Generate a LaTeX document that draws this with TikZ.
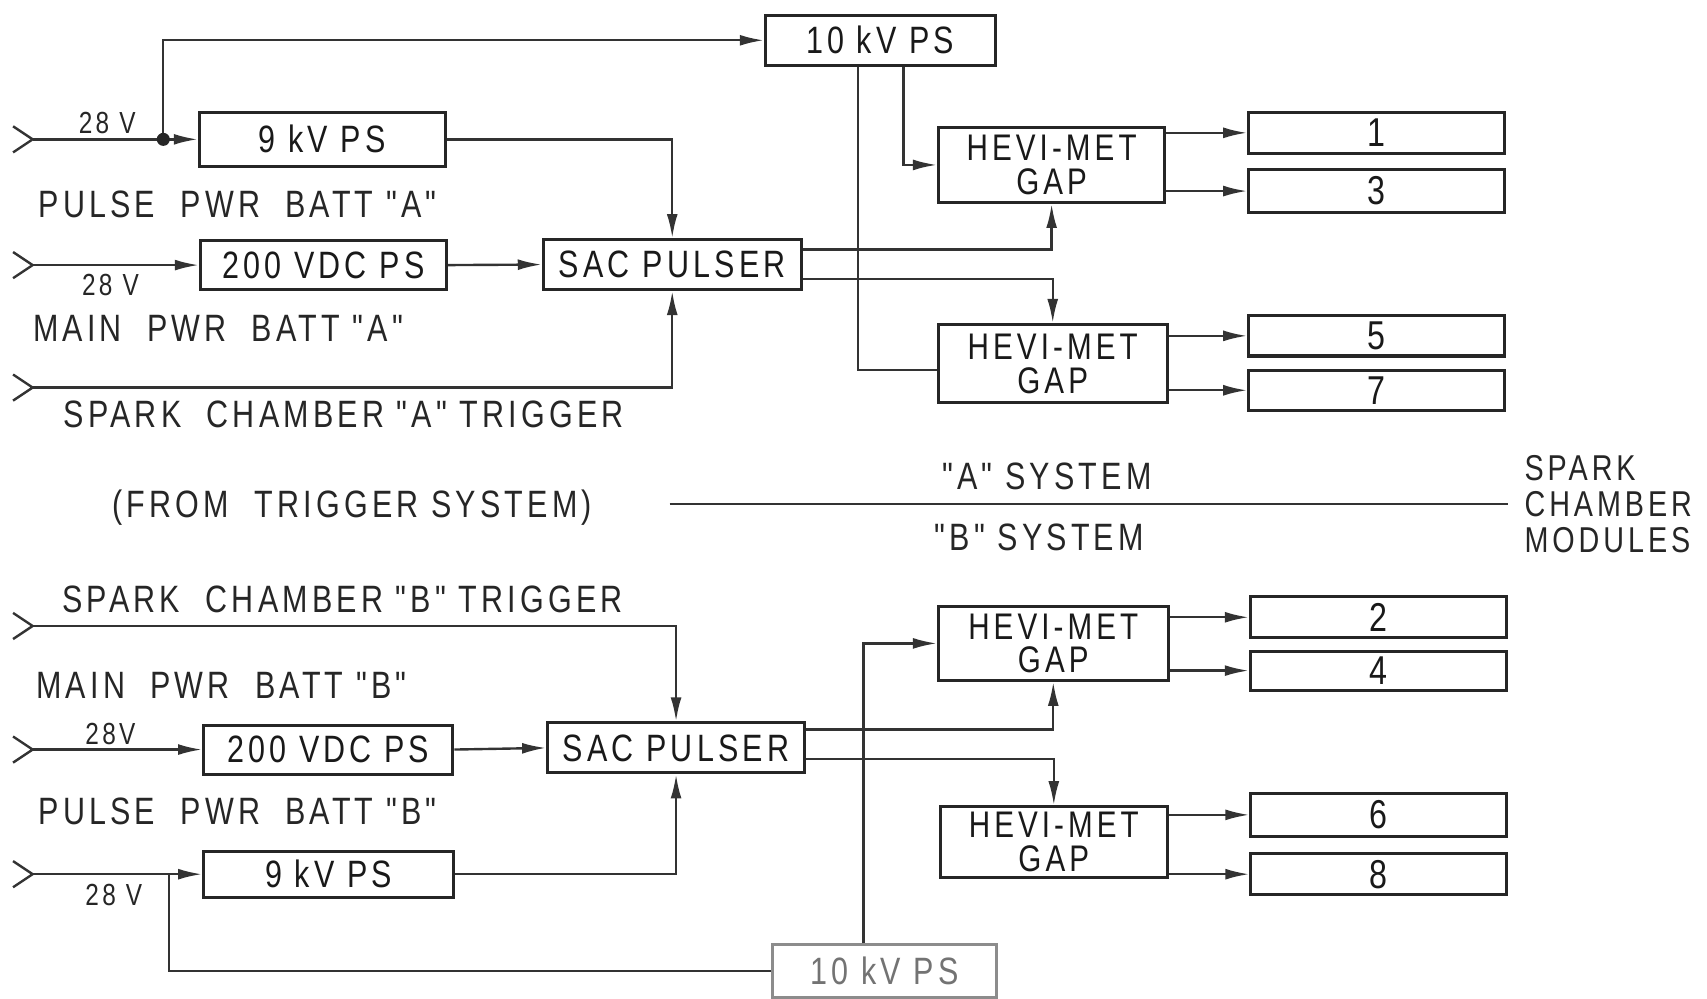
\documentclass[tikz,border=0pt]{standalone}
\usepackage{fontspec}
\setmainfont{Liberation Sans}[Ligatures=TeXOff,FakeStretch=0.8,LetterSpace=11]
\usetikzlibrary{arrows.meta}
\newcommand\myboxfont{\fontsize{17.5}{16}\selectfont}
\newcommand\mygapfont{\fontsize{17}{15.5}\selectfont}
\newcommand\mymodfont{\fontsize{18.5}{18}\selectfont}
\newcommand\mylblfont{\fontsize{17.5}{15}\selectfont}
\newcommand\mymodlblfont{\fontsize{16.5}{16.5}\selectfont}
\newcommand\mysmallfont{\fontsize{14}{14}\selectfont}
\begin{document}
\begin{tikzpicture}[x=0.5pt,y=-0.5pt,
  box/.style={draw=black!85, line width=1.4pt, inner sep=0pt, font=\myboxfont, align=center, text=black!90},
  gap/.style={box, font=\mygapfont},
  mod/.style={box, font=\mymodfont, minimum width=117.5pt},
  wire/.style={draw=black!80, line width=1.1pt},
  arr/.style={wire, -{Latex[length=11pt,width=5pt]}},
  lbl/.style={anchor=west, inner sep=0pt, font=\mylblfont, text=black!85},
  small/.style={anchor=west, inner sep=0pt, font=\mysmallfont, text=black!85},
  faded/.style={draw=black!45, text=black!55}]
\useasboundingbox (0,0) rectangle (1568,917);
\fill[white] (0,0) rectangle (1568,917);

% ---------- A system boxes ----------
\node[box, minimum width=105.5pt, minimum height=23pt] (psTenA) at (808.5,37) {10 kV PS};
\node[box, minimum width=113pt, minimum height=25pt] (psNineA) at (296,128) {9 kV PS};
\node[box, minimum width=113pt, minimum height=22.5pt] (vdcA) at (297,243.5) {200 VDC PS};
\node[box, minimum width=118.5pt, minimum height=23pt] (sacA) at (617.5,243) {SAC PULSER};
\node[gap, minimum width=104pt, minimum height=34.5pt] (gapA1) at (966,151.5) {HEVI-MET\\GAP};
\node[gap, minimum width=105pt, minimum height=36pt] (gapA2) at (967,334) {HEVI-MET\\GAP};
\node[mod, minimum height=19pt] (m1) at (1264.5,122) {1};
\node[mod, minimum height=19.5pt] (m3) at (1264.5,175.5) {3};
\node[mod, minimum height=18.5pt] (m5) at (1264.5,308.5) {5};
\node[mod, minimum height=18.5pt] (m7) at (1264.5,358.5) {7};

% ---------- B system boxes ----------
\node[box, minimum width=114.5pt, minimum height=22.5pt] (vdcB) at (301.5,688.5) {200 VDC PS};
\node[box, minimum width=118pt, minimum height=23pt] (sacB) at (621,687) {SAC PULSER};
\node[box, minimum width=115pt, minimum height=21pt] (psNineB) at (302,803) {9 kV PS};
\node[box, faded, minimum width=102.5pt, minimum height=24pt] (psTenB) at (812.5,892) {10 kV PS};
\node[gap, minimum width=105.5pt, minimum height=34pt] (gapB1) at (967.5,591) {HEVI-MET\\GAP};
\node[gap, minimum width=104pt, minimum height=32.5pt] (gapB2) at (968,773.5) {HEVI-MET\\GAP};
\node[mod, minimum height=19pt] (m2) at (1266,567) {2};
\node[mod, minimum height=18pt] (m4) at (1266,616) {4};
\node[mod, minimum height=19.5pt] (m6) at (1266.5,748.5) {6};
\node[mod, minimum height=19pt] (m8) at (1266.5,803) {8};

% ---------- input points ----------
\coordinate (inA1) at (30,128);
\coordinate (jA) at (150,128);
\coordinate (inA2) at (30,243.5);
\coordinate (inA3) at (30,356);
\coordinate (inB1) at (30,575);
\coordinate (inB2) at (30,688.5);
\coordinate (inB3) at (30,803);
\coordinate (jB) at (155,803);
\foreach \p in {inA1,inA2,inA3,inB1,inB2,inB3}{
  \draw[wire] ([shift={(-18,-12)}]\p) -- (\p) -- ([shift={(-18,12)}]\p);
}

% ---------- A wiring ----------
\draw[arr] (inA1) -- (psNineA.west);
\draw[arr] (jA) |- (psTenA.west);
\fill[black!85] (jA) circle[radius=3pt];
\draw[arr] (psNineA.east) -| (sacA.north);
\draw[arr] (inA2) -- (vdcA.west);
\draw[arr] (vdcA.east) -- (sacA.west);
\draw[arr] (inA3) -| (sacA.south);
\draw[arr] ([yshift=7pt]sacA.east) -| (gapA1.south);
\draw[arr] ([yshift=-6.5pt]sacA.east) -| (gapA2.north);
\draw[arr] ([xshift=10.75pt]psTenA.south) |- (gapA1.west);
\draw[wire] ([xshift=-10.25pt]psTenA.south) |- ([yshift=-3pt]gapA2.west);
\draw[arr] (gapA1.east |- m1) -- (m1.west);
\draw[arr] (gapA1.east |- m3) -- (m3.west);
\draw[arr] (gapA2.east |- m5) -- (m5.west);
\draw[arr] (gapA2.east |- m7) -- (m7.west);

% ---------- B wiring ----------
\draw[arr] (inB1) -| (sacB.north);
\draw[arr] (inB2) -- (vdcB.west);
\draw[arr] (vdcB.east) -- (sacB.west);
\draw[arr] (inB3) -- (psNineB.west);
\draw[wire] (jB) |- (psTenB.west);
\draw[arr] (psNineB.east) -| (sacB.south);
\draw[arr] ([yshift=8.5pt]sacB.east) -| (gapB1.south);
\draw[arr] ([yshift=-5pt]sacB.east) -| (gapB2.north);
\draw[arr] ([xshift=-9.75pt]psTenB.north) |- (gapB1.west);
\draw[arr] (gapB1.east |- m2) -- (m2.west);
\draw[arr] (gapB1.east |- m4) -- (m4.west);
\draw[arr] (gapB2.east |- m6) -- (m6.west);
\draw[arr] (gapB2.east |- m8) -- (m8.west);

% ---------- divider ----------
\coordinate (divL) at (615,463);
\coordinate (divR) at (1385,463);
\draw[wire] (divL) -- (divR);

% ---------- labels ----------
\node[small] (v1) at (72,113) {28 V};
\node[small] (v2) at (75,262) {28 V};
\node[small] (v3) at (78,674) {28V};
\node[small] (v4) at (78,822) {28 V};
\node[lbl] (lPA) at (35,188) {PULSE\ \ PWR\ \ BATT "A"};
\node[lbl] (lMA) at (30,302) {MAIN\ \ PWR\ \ BATT "A"};
\node[lbl] (lTA) at (58,381) {SPARK\ \ CHAMBER "A" TRIGGER};
\node[lbl] (lFT) at (103,466) {(FROM\ \ TRIGGER SYSTEM)};
\node[lbl] (lAS) at (865,438) {"A" SYSTEM};
\node[lbl] (lBS) at (858,494) {"B" SYSTEM};
\node[lbl, align=left, font=\mymodlblfont] (lSC) at (1400,463) {SPARK\\CHAMBER\\MODULES};
\node[lbl] (lTB) at (57,551) {SPARK\ \ CHAMBER "B" TRIGGER};
\node[lbl] (lMB) at (33,630) {MAIN\ \ PWR\ \ BATT "B"};
\node[lbl] (lPB) at (35,745) {PULSE\ \ PWR\ \ BATT "B"};
\end{tikzpicture}
\end{document}
